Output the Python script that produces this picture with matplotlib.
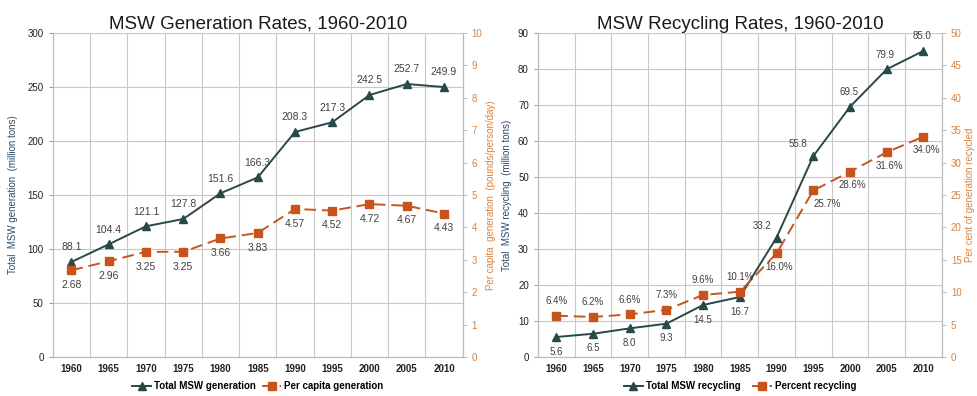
import numpy as np
import matplotlib.pyplot as plt
from matplotlib.ticker import MultipleLocator

plt.rcParams['font.family'] = ['Liberation Sans', 'DejaVu Sans']

years = ["1960", "1965", "1970", "1975", "1980", "1985", "1990", "1995", "2000", "2005", "2010"]

# generation chart
total_gen = [88.1, 104.4, 121.1, 127.8, 151.6, 166.3, 208.3, 217.3, 242.5, 252.7, 249.9]
per_capita = [2.68, 2.96, 3.25, 3.25, 3.66, 3.83, 4.57, 4.52, 4.72, 4.67, 4.43]

# recycling chart
total_rec = [5.6, 6.5, 8.0, 9.3, 14.5, 16.7, 33.2, 55.8, 69.5, 79.9, 85.0]
pct_rec = [6.4, 6.2, 6.6, 7.3, 9.6, 10.1, 16.0, 25.7, 28.6, 31.6, 34.0]

DARK = "#2b4848"
ORANGE = "#c9531d"
ORANGE_TXT = "#d9823e"
TXT = "#404040"
GRID = "#c8c8c8"

fig = plt.figure(figsize=(9.78, 3.96), dpi=100)
ax1 = fig.add_axes([0.054, 0.098, 0.419, 0.819])
ax2 = fig.add_axes([0.550, 0.098, 0.413, 0.819])

x = np.arange(len(years))


def style_axes(ax, axr, ymax, ystep, rmax, rstep):
    ax.set_xlim(-0.5, len(years) - 0.5)
    ax.set_ylim(0, ymax)
    ax.yaxis.set_major_locator(MultipleLocator(ystep))
    axr.set_ylim(0, rmax)
    axr.yaxis.set_major_locator(MultipleLocator(rstep))
    ax.set_xticks(x)
    ax.set_xticklabels(years, fontsize=7, color="#222222", fontweight="bold")
    ax.set_xticks(np.arange(-0.5, len(years)), minor=True)
    ax.grid(True, which="minor", axis="x", color=GRID, lw=0.8)
    ax.grid(True, which="major", axis="y", color=GRID, lw=0.8)
    ax.tick_params(axis="x", which="both", length=0, pad=5)
    ax.tick_params(axis="y", length=3, labelsize=7, colors="#888888",
                   labelcolor="#222222", width=0.6)
    axr.tick_params(axis="y", length=3, labelsize=7, colors="#aaaaaa",
                    labelcolor=ORANGE_TXT, width=0.6)
    for a in (ax, axr):
        for s in a.spines.values():
            s.set_color("#bbbbbb")
            s.set_linewidth(0.8)
        a.spines["top"].set_visible(False)
    ax.set_axisbelow(True)


# ---- left chart ----
ax1r = ax1.twinx()
style_axes(ax1, ax1r, 300, 50, 10, 1)
l1, = ax1.plot(x, total_gen, color=DARK, marker="^", ms=6, lw=1.4, zorder=3)
l2, = ax1r.plot(x, per_capita, color=ORANGE, marker="s", ms=5.5, lw=1.4,
                ls=(0, (6, 3)), zorder=3)
for i, v in enumerate(total_gen):
    ax1.annotate(f"{v:.1f}", (x[i], v), xytext=(0, 7), textcoords="offset points",
                 ha="center", va="bottom", fontsize=7.5, color=TXT)
for i, v in enumerate(per_capita):
    ax1r.annotate(f"{v:.2f}", (x[i], v), xytext=(0, -7), textcoords="offset points",
                  ha="center", va="top", fontsize=7.5, color=TXT)
ax1.set_title("MSW Generation Rates, 1960-2010", fontsize=13.5, color="#1a1a1a", pad=0.5)
ax1.set_ylabel("Total  MSW generation  (million tons)", fontsize=7, color="#2b4a6a")
ax1.yaxis.set_label_coords(-0.085, 0.5)
ax1r.set_ylabel("Per capita  generation  (pounds/person/day)", fontsize=7,
                color=ORANGE_TXT)
ax1r.yaxis.set_label_coords(1.056, 0.5)
ax1.legend([l1, l2], ["Total MSW generation", "Per capita generation"],
           loc="center", bbox_to_anchor=(0.5, -0.09), ncol=2, frameon=False,
           handlelength=2, handletextpad=0.3, columnspacing=0.6, borderpad=0.1,
           prop={"weight": "bold", "size": 7})

# ---- right chart ----
ax2r = ax2.twinx()
style_axes(ax2, ax2r, 90, 10, 50, 5)
m1, = ax2.plot(x, total_rec, color=DARK, marker="^", ms=6, lw=1.4, zorder=3)
m2, = ax2r.plot(x, pct_rec, color=ORANGE, marker="s", ms=6, lw=1.4,
                ls=(0, (6, 3)), zorder=3)
for i, v in enumerate(total_rec):
    if i < 6:
        ax2.annotate(f"{v:.1f}", (x[i], v), xytext=(0, -7), textcoords="offset points",
                     ha="center", va="top", fontsize=7, color=TXT)
    elif i < 8:
        ax2.annotate(f"{v:.1f}", (x[i], v), xytext=(-4, 5), textcoords="offset points",
                     ha="right", va="bottom", fontsize=7, color=TXT)
    else:
        ax2.annotate(f"{v:.1f}", (x[i], v), xytext=(-1, 7), textcoords="offset points",
                     ha="center", va="bottom", fontsize=7, color=TXT)
for i, v in enumerate(pct_rec):
    if i < 6:
        ax2r.annotate(f"{v:.1f}%", (x[i], v), xytext=(0, 7), textcoords="offset points",
                      ha="center", va="bottom", fontsize=7, color=TXT)
    else:
        dx = 10 if i == 7 else 2
        ax2r.annotate(f"{v:.1f}%", (x[i], v), xytext=(dx, -6), textcoords="offset points",
                      ha="center", va="top", fontsize=7, color=TXT)
ax2.set_title("MSW Recycling Rates, 1960-2010", fontsize=13.5, color="#1a1a1a", pad=0.5)
ax2.set_ylabel("Total  MSW recycling  (million tons)", fontsize=7, color="#2b4a6a")
ax2.yaxis.set_label_coords(-0.064, 0.5)
ax2r.set_ylabel("Per cent of generation recycled", fontsize=7, color=ORANGE_TXT)
ax2r.yaxis.set_label_coords(1.058, 0.5)
ax2.legend([m1, m2], ["Total MSW recycling", "Percent recycling"],
           loc="center", bbox_to_anchor=(0.5, -0.09), ncol=2, frameon=False,
           handlelength=2, handletextpad=0.3, columnspacing=1.2, borderpad=0.1,
           prop={"weight": "bold", "size": 7})

fig.savefig("out.png", dpi=100)
